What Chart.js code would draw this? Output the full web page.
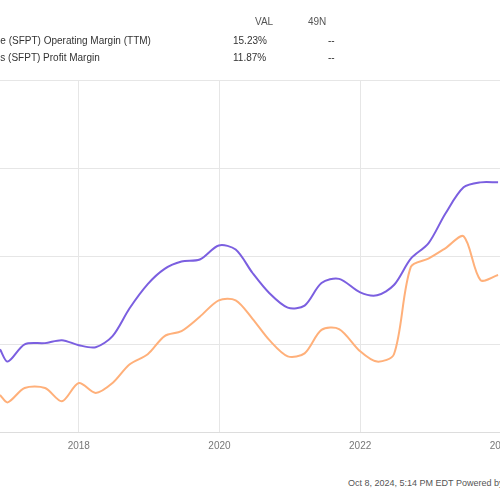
<!DOCTYPE html><html><head><script src="https://cdn.jsdelivr.net/npm/chart.js@4"></script>
<style>body{margin:0;width:500px;height:500px;overflow:hidden;background:#fff;font-family:"Liberation Sans",Arial,sans-serif;position:relative}
#c{position:absolute;left:0;top:0}
.t{position:absolute;font-size:10px;color:#333;white-space:nowrap}
</style></head><body>
<canvas id="c" width="520" height="460"></canvas>
<div class="t" style="left:255px;top:16px;color:#555">VAL</div>
<div class="t" style="left:308px;top:16px;color:#555">49N</div>
<div class="t" style="left:-8px;top:35px">me (SFPT) Operating Margin (TTM)</div>
<div class="t" style="left:-8px;top:52px">ms (SFPT) Profit Margin</div>
<div class="t" style="left:233px;top:35px">15.23%</div>
<div class="t" style="left:233px;top:52px">11.87%</div>
<div class="t" style="left:328px;top:35px">--</div>
<div class="t" style="left:328px;top:52px">--</div>
<div class="t" style="left:348px;top:478px;font-size:9px;color:#555">Oct 8, 2024, 5:14 PM EDT Powered by YCHARTS</div>
<script>
const years=[2016.88,2016.99,2017.23,2017.52,2017.76,2018.0,2018.24,2018.48,2018.72,2018.98,2019.22,2019.46,2019.72,2019.99,2020.23,2020.47,2020.71,2020.97,2021.21,2021.45,2021.70,2022.0,2022.24,2022.48,2022.72,2022.97,2023.21,2023.47,2023.71,2023.96];
const operatingMargin=[8.82,8.40,8.99,9.03,9.13,8.96,8.89,9.27,10.21,11.04,11.56,11.81,11.88,12.36,12.22,11.42,10.73,10.24,10.31,11.08,11.22,10.76,10.66,11.01,11.91,12.43,13.44,14.34,14.51,14.51];
const profitMargin=[7.26,7.01,7.50,7.50,7.05,7.67,7.33,7.67,8.30,8.65,9.27,9.44,9.93,10.49,10.49,9.86,9.13,8.58,8.68,9.48,9.51,8.75,8.40,8.65,11.63,11.91,12.26,12.67,11.18,11.35];
const xTicks=[2018,2020,2022,2024];
const yTicks=[6,9,12,15,18];
new Chart(document.getElementById('c'),{type:'line',
data:{datasets:[
{data:years.map((x,i)=>({x,y:operatingMargin[i]})),borderColor:'#7b5fe0',borderWidth:2,pointRadius:0,tension:0.3},
{data:years.map((x,i)=>({x,y:profitMargin[i]})),borderColor:'#ffb07a',borderWidth:2,pointRadius:0,tension:0.3}]},
options:{responsive:false,animation:false,layout:{padding:{left:0,right:0,top:80,bottom:0}},
plugins:{legend:{display:false},tooltip:{enabled:false}},
scales:{x:{type:'linear',min:2016.88,max:2024.0,afterBuildTicks:a=>{a.ticks=xTicks.map(v=>({value:v}))},
 grid:{color:'#e6e6e6',drawTicks:false},border:{color:'#ddd'},
 ticks:{color:'#777',font:{size:10},padding:8,callback:v=>String(v)}},
y:{min:6,max:18,afterBuildTicks:a=>{a.ticks=yTicks.map(v=>({value:v}))},ticks:{display:false},grid:{color:'#e6e6e6',drawTicks:false},border:{display:false}}}}});
</script></body></html>
